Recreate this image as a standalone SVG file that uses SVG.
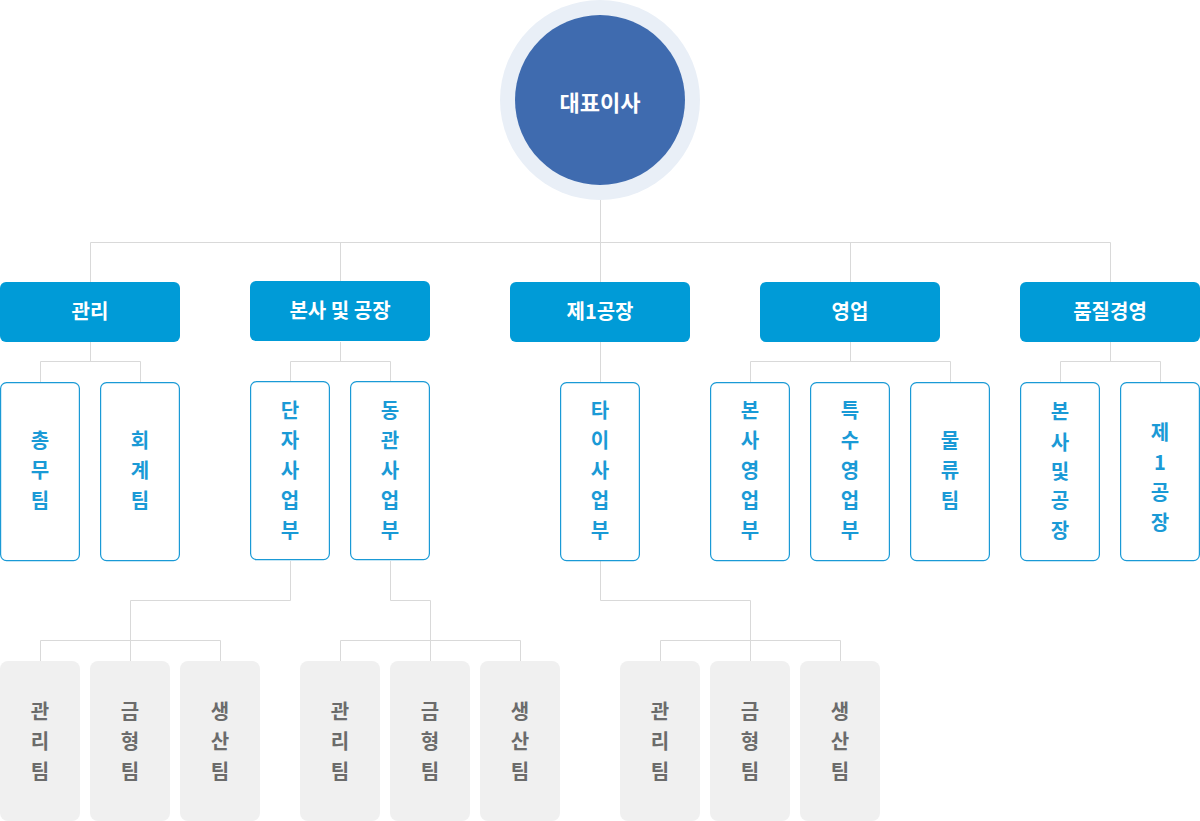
<svg xmlns="http://www.w3.org/2000/svg" width="1200" height="821" viewBox="0 0 1200 821">
<style>
.ln{fill:none;stroke:#d9d9d9;stroke-width:1}
.dept rect{fill:#009bd7}
.dept text{fill:#fff;font-family:"Noto Sans CJK KR","Noto Sans",sans-serif;font-size:20px;font-weight:700;text-anchor:middle}
.sub rect{fill:#fff;stroke:#1a9ad6;stroke-width:1.2}
.sub text{fill:#1a9ad6;font-family:"Noto Sans CJK KR","Noto Sans",sans-serif;font-size:20px;font-weight:700;text-anchor:middle}
.team rect{fill:#f0f0f0}
.team text{fill:#6b6b6b;font-family:"Noto Sans CJK KR","Noto Sans",sans-serif;font-size:20px;font-weight:700;text-anchor:middle}
</style>
<g id="connectors">
<path class="ln" d="M600.5 200V242.5M90.5 282V242.5H1110.5V282M340.5 242.5V282M600.5 242.5V282M850.5 242.5V282"/>
<path class="ln" d="M90.5 342V361.5M40.5 382V361.5H140.5V382"/>
<path class="ln" d="M340.5 342V361.5M290.5 382V361.5H390.5V382"/>
<path class="ln" d="M600.5 342V382"/>
<path class="ln" d="M850.5 342V361.5M750.5 382V361.5H950.5V382"/>
<path class="ln" d="M1110.5 342V361.5M1060.5 382V361.5H1160.5V382"/>
<path class="ln" d="M290.5 561V600.5H130.5V661M40.5 661V640.5H220.5V661"/>
<path class="ln" d="M390.5 561V600.5H430.5V661M340.5 661V640.5H520.5V661"/>
<path class="ln" d="M600.5 561V600.5H750.5V661M660.5 661V640.5H840.5V661"/>
</g>
<g id="ceo">
<circle cx="600" cy="100" r="100" fill="#e9eff7"/>
<circle cx="600" cy="100" r="85" fill="#3f6baf"/>
<text x="600" y="111" fill="#fff" font-family="'Noto Sans CJK KR','Noto Sans',sans-serif" font-size="22" font-weight="700" text-anchor="middle">대표이사</text>
</g>
<g id="d-gwanri" class="dept"><rect x="0" y="282" width="180" height="60" rx="6"/><text x="90" y="319">관리</text></g>
<g id="d-bonsa" class="dept"><rect x="250" y="281" width="180" height="60" rx="6"/><text x="340" y="318">본사 및 공장</text></g>
<g id="d-plant1" class="dept"><rect x="510" y="282" width="180" height="60" rx="6"/><text x="600" y="319">제1공장</text></g>
<g id="d-sales" class="dept"><rect x="760" y="282" width="180" height="60" rx="6"/><text x="850" y="319">영업</text></g>
<g id="d-quality" class="dept"><rect x="1020" y="282" width="180" height="60" rx="6"/><text x="1110" y="319">품질경영</text></g>

<g id="s-chongmu" class="sub"><rect x="0.6" y="382.6" width="78.8" height="178" rx="6"/><text x="40" y="448">총</text><text x="40" y="478">무</text><text x="40" y="508">팀</text></g>
<g id="s-hoegye" class="sub"><rect x="100.6" y="382.6" width="78.8" height="178" rx="6"/><text x="140" y="448">회</text><text x="140" y="478">계</text><text x="140" y="508">팀</text></g>
<g id="s-danja" class="sub"><rect x="250.6" y="381.6" width="78.8" height="178" rx="6"/><text x="290" y="418">단</text><text x="290" y="448">자</text><text x="290" y="478">사</text><text x="290" y="508">업</text><text x="290" y="538">부</text></g>
<g id="s-donggwan" class="sub"><rect x="350.6" y="381.6" width="78.8" height="178" rx="6"/><text x="390" y="418">동</text><text x="390" y="448">관</text><text x="390" y="478">사</text><text x="390" y="508">업</text><text x="390" y="538">부</text></g>
<g id="s-tai" class="sub"><rect x="560.6" y="382.6" width="78.8" height="178" rx="6"/><text x="600" y="418">타</text><text x="600" y="448">이</text><text x="600" y="478">사</text><text x="600" y="508">업</text><text x="600" y="538">부</text></g>
<g id="s-bonsasales" class="sub"><rect x="710.6" y="382.6" width="78.8" height="178" rx="6"/><text x="750" y="418">본</text><text x="750" y="448">사</text><text x="750" y="478">영</text><text x="750" y="508">업</text><text x="750" y="538">부</text></g>
<g id="s-special" class="sub"><rect x="810.6" y="382.6" width="78.8" height="178" rx="6"/><text x="850" y="418">특</text><text x="850" y="448">수</text><text x="850" y="478">영</text><text x="850" y="508">업</text><text x="850" y="538">부</text></g>
<g id="s-logistics" class="sub"><rect x="910.6" y="382.6" width="78.8" height="178" rx="6"/><text x="950" y="448">물</text><text x="950" y="478">류</text><text x="950" y="508">팀</text></g>
<g id="s-qbonsa" class="sub"><rect x="1020.6" y="382.6" width="78.8" height="178" rx="6"/><text x="1060" y="419">본</text><text x="1060" y="450">사</text><text x="1060" y="479">및</text><text x="1060" y="508">공</text><text x="1060" y="538">장</text></g>
<g id="s-qplant1" class="sub"><rect x="1120.6" y="382.6" width="78.8" height="178" rx="6"/><text x="1160" y="440">제</text><text x="1160" y="470">1</text><text x="1160" y="500">공</text><text x="1160" y="530">장</text></g>

<g id="t-a1" class="team"><rect x="0" y="661" width="80" height="160" rx="8"/><text x="40" y="719">관</text><text x="40" y="749">리</text><text x="40" y="779">팀</text></g>
<g id="t-a2" class="team"><rect x="90" y="661" width="80" height="160" rx="8"/><text x="130" y="719">금</text><text x="130" y="749">형</text><text x="130" y="779">팀</text></g>
<g id="t-a3" class="team"><rect x="180" y="661" width="80" height="160" rx="8"/><text x="220" y="719">생</text><text x="220" y="749">산</text><text x="220" y="779">팀</text></g>
<g id="t-b1" class="team"><rect x="300" y="661" width="80" height="160" rx="8"/><text x="340" y="719">관</text><text x="340" y="749">리</text><text x="340" y="779">팀</text></g>
<g id="t-b2" class="team"><rect x="390" y="661" width="80" height="160" rx="8"/><text x="430" y="719">금</text><text x="430" y="749">형</text><text x="430" y="779">팀</text></g>
<g id="t-b3" class="team"><rect x="480" y="661" width="80" height="160" rx="8"/><text x="520" y="719">생</text><text x="520" y="749">산</text><text x="520" y="779">팀</text></g>
<g id="t-c1" class="team"><rect x="620" y="661" width="80" height="160" rx="8"/><text x="660" y="719">관</text><text x="660" y="749">리</text><text x="660" y="779">팀</text></g>
<g id="t-c2" class="team"><rect x="710" y="661" width="80" height="160" rx="8"/><text x="750" y="719">금</text><text x="750" y="749">형</text><text x="750" y="779">팀</text></g>
<g id="t-c3" class="team"><rect x="800" y="661" width="80" height="160" rx="8"/><text x="840" y="719">생</text><text x="840" y="749">산</text><text x="840" y="779">팀</text></g>
</svg>
